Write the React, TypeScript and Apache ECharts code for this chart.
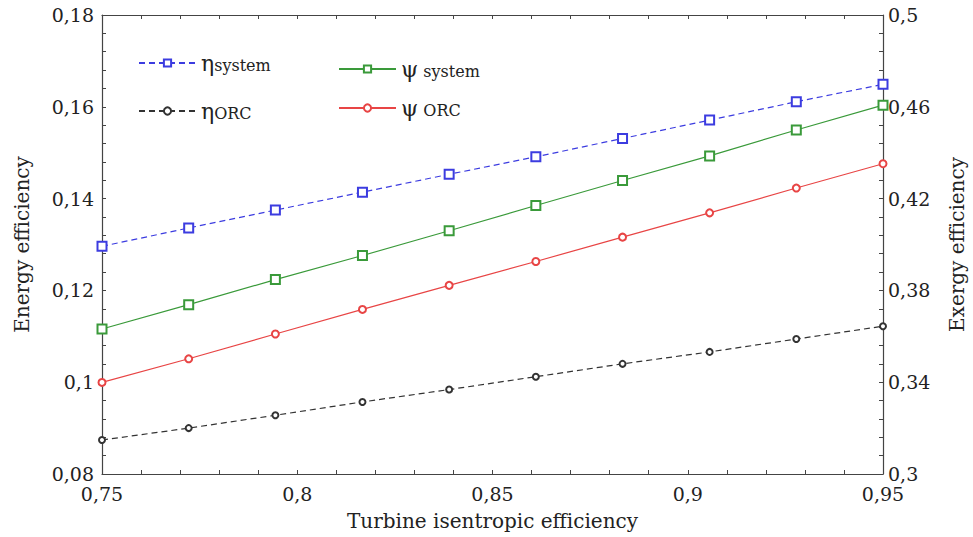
import React, { useEffect, useRef } from "react";
import * as echarts from "echarts";

const turbineEff = [0.75, 0.7722, 0.7944, 0.8167, 0.8389, 0.8611, 0.8833, 0.9056, 0.9278, 0.95];
const etaSystem = [0.1296, 0.1336, 0.1375, 0.1414, 0.1453, 0.1491, 0.1531, 0.1571, 0.1611, 0.1649];
const etaORC = [0.0874, 0.09, 0.0928, 0.0957, 0.0984, 0.1012, 0.104, 0.1066, 0.1094, 0.1122];
const psiSystem = [0.3632, 0.3738, 0.3847, 0.3952, 0.406, 0.417, 0.4279, 0.4386, 0.4499, 0.4607];
const psiORC = [0.3399, 0.3502, 0.361, 0.3717, 0.3822, 0.3926, 0.4032, 0.4138, 0.4246, 0.4352];

const seriesNames = ["ηsystem", "ηORC", "ψ system", "ψ ORC"];

const FONT = "DejaVu Serif";
const fmt = (v: number) => String(+Number(v).toFixed(3)).replace(".", ",");
const pairs = (ys: number[]) => turbineEff.map((x, i) => [x, ys[i]]);

export default function App() {
  const ref = useRef<HTMLDivElement>(null);
  useEffect(() => {
    if (!ref.current) return;
    const chart = echarts.init(ref.current, undefined, { renderer: "svg" });
    const axisLine = { show: true, lineStyle: { color: "#444", width: 1.2 } };
    const tick = { show: true, inside: true, length: 4, lineStyle: { color: "#444" } };
    const minor = { show: true, splitNumber: 5, length: 4, lineStyle: { color: "#444" } };
    const label = { color: "#222", fontFamily: FONT, fontSize: 19, formatter: fmt };
    const nameStyle = { color: "#222", fontFamily: FONT, fontSize: 20 };
    const legendRich = (name: string) => {
      const g = name[0];
      const rest = name.slice(1);
      return `{g|${g}}{s|${rest}}`;
    };
    const richText = {
      fontFamily: FONT,
      rich: {
        g: { fontFamily: FONT, fontSize: 22, color: "#222" },
        s: { fontFamily: FONT, fontSize: 16, color: "#222", padding: [4, 0, 0, 0] },
      },
    };
    const mkLegend = (name: string, left: number, top: number) => ({
      data: [name],
      left,
      top,
      orient: "horizontal",
      padding: 0,
      itemWidth: 57,
      itemHeight: 9,
      itemGap: 0,
      formatter: legendRich,
      textStyle: richText,
      selectedMode: false,
    });
    const mkSeries = (
      name: string,
      ys: number[],
      yAxisIndex: number,
      color: string,
      symbol: string,
      symbolSize: number,
      dashed: boolean
    ) => ({
      name,
      type: "line",
      xAxisIndex: 0,
      yAxisIndex,
      data: pairs(ys),
      symbol,
      symbolSize,
      showSymbol: true,
      color,
      lineStyle: { color, width: 1.2, type: dashed ? [6, 4] : "solid" },
      itemStyle: { color, borderColor: color, borderWidth: 1.3 },
      z: 3,
    });
    chart.setOption({
      animation: false,
      backgroundColor: "#fff",
      textStyle: { fontFamily: FONT },
      grid: { left: 102, right: 90, top: 15, bottom: 63, containLabel: false, outerBoundsMode: "none" },
      legend: [
        mkLegend(seriesNames[0], 138, 52),
        mkLegend(seriesNames[1], 138, 100),
        mkLegend(seriesNames[2], 338, 58),
        mkLegend(seriesNames[3], 338, 97),
      ],
      xAxis: [
        {
          type: "value",
          min: 0.75,
          max: 0.95,
          interval: 0.05,
          position: "bottom",
          axisLine,
          axisTick: tick,
          minorTick: minor,
          splitLine: { show: false },
          axisLabel: { ...label, margin: 10 },
          name: "Turbine isentropic efficiency",
          nameLocation: "middle",
          nameGap: 37,
          nameTextStyle: nameStyle,
        },
        {
          type: "value",
          min: 0.75,
          max: 0.95,
          interval: 0.05,
          position: "top",
          axisLine,
          axisTick: tick,
          minorTick: minor,
          splitLine: { show: false },
          axisLabel: { show: false },
        },
      ],
      yAxis: [
        {
          type: "value",
          min: 0.08,
          max: 0.18,
          interval: 0.02,
          position: "left",
          axisLine,
          axisTick: tick,
          minorTick: minor,
          splitLine: { show: false },
          axisLabel: { ...label, margin: 8 },
          name: "Energy efficiency",
          nameLocation: "middle",
          nameRotate: 90,
          nameGap: 70,
          nameTextStyle: nameStyle,
        },
        {
          type: "value",
          min: 0.3,
          max: 0.5,
          interval: 0.04,
          position: "right",
          axisLine,
          axisTick: tick,
          minorTick: minor,
          splitLine: { show: false },
          axisLabel: { ...label, margin: 5 },
          name: "Exergy efficiency",
          nameLocation: "middle",
          nameRotate: 90,
          nameGap: 64,
          nameTextStyle: nameStyle,
        },
      ],
      series: [
        mkSeries(seriesNames[0], etaSystem, 0, "#3c3ce0", "emptyRect", 9, true),
        mkSeries(seriesNames[1], etaORC, 0, "#333333", "emptyCircle", 6, true),
        mkSeries(seriesNames[2], psiSystem, 1, "#3a9a3a", "emptyRect", 9, false),
        mkSeries(seriesNames[3], psiORC, 1, "#e84545", "emptyCircle", 7, false),
      ],
    });
    return () => chart.dispose();
  }, []);
  return <div ref={ref} style={{ width: 973, height: 537, position: "absolute", left: 0, top: 0 }} />;
}
